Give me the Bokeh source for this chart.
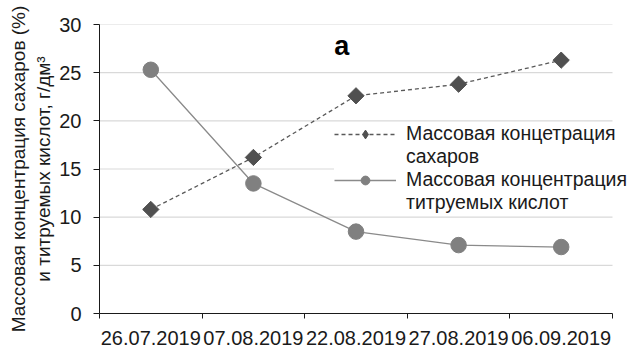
import math
from bokeh.plotting import figure
from bokeh.models import (Range1d, FixedTicker, Legend, LegendItem, Label,
                          ColumnDataSource)
from bokeh.embed import file_html
from bokeh.resources import INLINE

# ---- data ----
dates = ["26.07.2019", "07.08.2019", "22.08.2019", "27.08.2019", "06.09.2019"]
sugar = [10.8, 16.2, 22.6, 23.8, 26.3]
acids = [25.3, 13.5, 8.5, 7.1, 6.9]
y_ticks = [0, 5, 10, 15, 20, 25, 30]
label_sugar = ["Массовая концетрация", "сахаров"]
label_acids = ["Массовая концентрация", "титруемых кислот"]
y_title = "Массовая концентрация сахаров (%)\nи титруемых кислот, г/дм³"
panel_letter = "а"

FONT = "Liberation Sans"
INK = "#1a1a1a"

W, H = 630, 347
LEFT, TOP, BOTTOM = 99, 24, 34
AXIS_RIGHT = 612          # where the category axis ends (px)
n = len(dates)
x_end = n * (W - LEFT) / (AXIS_RIGHT - LEFT)   # frame runs to the page edge for the legend

x_pos = [i + 0.5 for i in range(n)]
src = ColumnDataSource(dict(x=x_pos, sugar=sugar, acids=acids))
grid_src = ColumnDataSource(dict(y=y_ticks[1:], x0=[0] * (len(y_ticks) - 1),
                                 x1=[n] * (len(y_ticks) - 1)))

p = figure(width=W, height=H, output_backend="svg", toolbar_location=None,
           x_range=Range1d(0, x_end), y_range=Range1d(y_ticks[0], y_ticks[-1]),
           min_border_left=LEFT, min_border_right=0, min_border_top=TOP,
           min_border_bottom=BOTTOM)
p.outline_line_color = None
p.background_fill_color = "white"
p.border_fill_color = "white"

# horizontal gridlines limited to the category span
p.segment("x0", "y", "x1", "y", source=grid_src, line_color="#d9d9d9",
          line_width=1.2, level="underlay")
p.xgrid.visible = False
p.ygrid.visible = False

# x axis: labels at category centres, tick marks at category boundaries
p.xaxis.bounds = (0, n)
p.xaxis.ticker = FixedTicker(ticks=x_pos, minor_ticks=list(range(n + 1)))
p.xaxis.major_label_overrides = {x: d for x, d in zip(x_pos, dates)}
p.xaxis.major_tick_out = 0
p.xaxis.major_tick_in = 0
p.xaxis.minor_tick_out = 5
p.xaxis.minor_tick_in = 0
p.xaxis.minor_tick_line_color = INK
p.xaxis.axis_line_color = INK
p.xaxis.major_label_text_font = FONT
p.xaxis.major_label_text_font_size = "20px"
p.xaxis.major_label_text_color = INK
p.xaxis.major_label_standoff = 12

p.yaxis.ticker = FixedTicker(ticks=y_ticks)
p.yaxis.minor_tick_line_color = None
p.yaxis.major_tick_out = 6
p.yaxis.major_tick_in = 0
p.yaxis.major_tick_line_color = INK
p.yaxis.axis_line_color = INK
p.yaxis.major_label_text_font = FONT
p.yaxis.major_label_text_font_size = "20px"
p.yaxis.major_label_text_color = INK
p.yaxis.major_label_standoff = 12
p.yaxis.axis_label = y_title
p.yaxis.axis_label_text_font = FONT
p.yaxis.axis_label_text_font_size = "19px"
p.yaxis.axis_label_text_font_style = "normal"
p.yaxis.axis_label_text_color = INK
p.yaxis.axis_label_standoff = 2

# series
l1 = p.line("x", "sugar", source=src, line_color="#595959", line_width=1.3,
            line_dash="4 3")
# diamond used for the legend swatch; drawn under the (larger) plot markers
lg_diamond = p.scatter("x", "sugar", source=src, marker="diamond", size=10,
                       fill_color="#505050", line_color="#505050")
m1 = p.scatter("x", "sugar", source=src, marker="square", angle=math.pi / 4,
               size=11.5, fill_color="#505050", line_color="#505050")
l2 = p.line("x", "acids", source=src, line_color="#8a8a8a", line_width=1.3)
m2 = p.scatter("x", "acids", source=src, marker="circle", size=15.5,
               fill_color="#808080", line_color="#808080")

lg_blank = p.line(x=[], y=[], line_alpha=0)

legend = Legend(items=[LegendItem(label=label_sugar[0], renderers=[l1, lg_diamond]),
                       LegendItem(label=label_sugar[1], renderers=[lg_blank]),
                       LegendItem(label=label_acids[0], renderers=[l2, m2]),
                       LegendItem(label=label_acids[1], renderers=[lg_blank])],
                location=(235, 99), orientation="vertical")
legend.glyph_width = 62
legend.glyph_height = 22
legend.label_height = 22
legend.label_standoff = 10
legend.padding = 1
legend.spacing = 0
legend.margin = 0
legend.border_line_color = None
legend.background_fill_color = "white"
legend.background_fill_alpha = 1.0
legend.label_text_font = FONT
legend.label_text_font_size = "19.5px"
legend.label_text_color = INK
legend.label_text_line_height = 1.1
p.add_layout(legend, "center")

p.add_layout(Label(x=2.36, y=27.8, text=panel_letter, text_font=FONT,
                   text_font_size="27px", text_font_style="bold",
                   text_align="center", text_baseline="alphabetic",
                   text_color="#000000"))

open("out.html", "w").write(file_html(p, INLINE))
